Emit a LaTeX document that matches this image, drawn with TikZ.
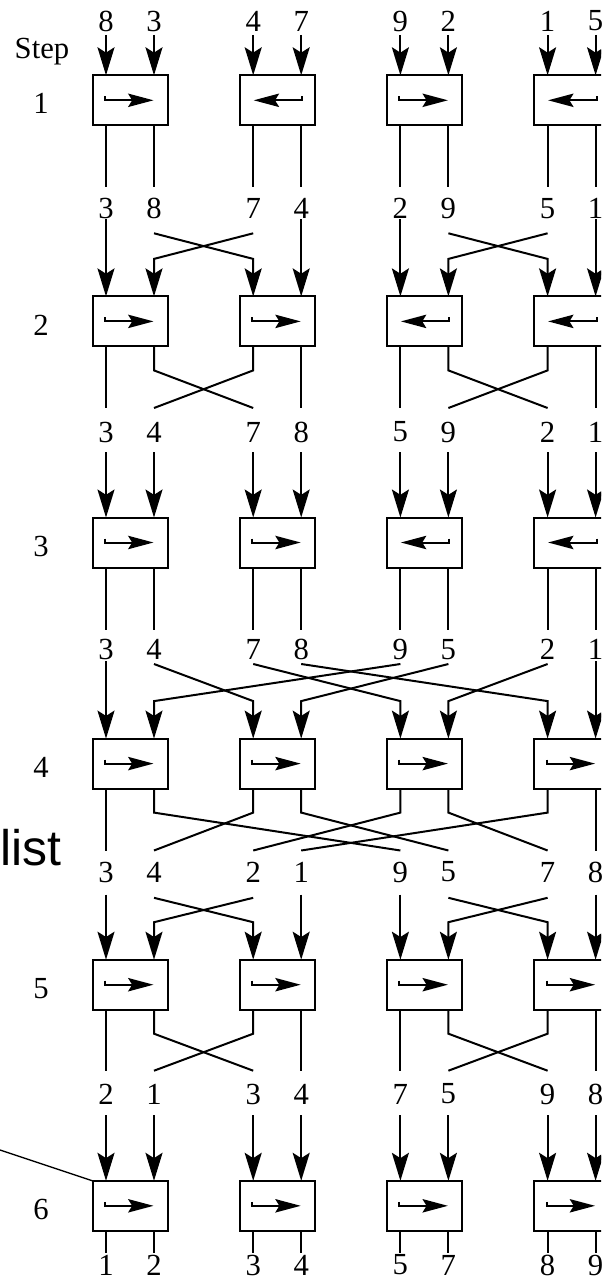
\documentclass[tikz,border=0pt]{standalone}
\usepackage{fontspec}
\setmainfont{Liberation Serif}
\newfontfamily\sansf{Liberation Sans}
\usetikzlibrary{arrows.meta,calc}
\newcommand\mklabrow[3]{%
  \foreach \v [count=\i from 0] in {#3}{%
    \pgfmathsetmacro\wx{106+147.2*floor(\i/2)+48*mod(\i,2)}%
    \node[num] (lab#1\i) at (\wx,#2) {\v};%
  }%
}
\begin{document}
\begin{tikzpicture}[x=0.75pt,y=-0.75pt,
  wire/.style={line width=1.5pt},
  inwire/.style={line width=1.5pt,-{Stealth[length=21pt,width=12.75pt,inset=4pt]}},
  cell/.style={draw,line width=1.5pt,minimum width=56.25pt,minimum height=37.5pt,inner sep=0pt,outer sep=0pt},
  num/.style={font=\fontsize{23}{23}\selectfont,inner sep=0pt},
  dirarrow/.style={line width=1.5pt,-{Stealth[length=19pt,width=10pt,inset=3pt]}},
  leadline/.style={line width=1pt}
]
\useasboundingbox (0,0) rectangle (601,1281);
\clip (0,0) rectangle (601,1281);

% boxes (comparators)
\foreach \s in {1,...,6}{
  \foreach \c in {0,...,3}{
    \pgfmathsetmacro\cx{130+147.2*\c}
    \pgfmathsetmacro\cy{100.3+221.1*(\s-1)}
    \pgfmathtruncatemacro\dirv{{1,-1,1,-1,1,1,-1,-1,1,1,-1,-1,1,1,1,1,1,1,1,1,1,1,1,1}[4*(\s-1)+\c]}
    \pgfmathtruncatemacro\iL{2*\c}
    \pgfmathtruncatemacro\iR{2*\c+1}
    \node[cell] (b\s\c) at (\cx,\cy) {};
    \coordinate (in\s-\iL) at ($(b\s\c.north)+(-24,0)$);
    \coordinate (in\s-\iR) at ($(b\s\c.north)+(24,0)$);
    \coordinate (out\s-\iL) at ($(b\s\c.south)+(-24,0)$);
    \coordinate (out\s-\iR) at ($(b\s\c.south)+(24,0)$);
    \draw[dirarrow] ($(b\s\c.center)+({-25*(\dirv)},-4)$) -- ++(0,4) -- ($(b\s\c.center)+({23.5*(\dirv)},0)$);
  }
}

% value labels
\mklabrow{0}{21}{8,3,4,7,9,2,1,5}
\mklabrow{1}{208.5}{3,8,7,4,2,9,5,1}
\mklabrow{2}{432}{3,4,7,8,5,9,2,1}
\mklabrow{3}{649.5}{3,4,7,8,9,5,2,1}
\mklabrow{4}{872}{3,4,2,1,9,5,7,8}
\mklabrow{5}{1094}{2,1,3,4,7,5,9,8}
\mklabrow{6}{1265}{1,2,3,4,5,7,8,9}

% step labels
\node[num] (steptxt) at (42,52) {Step};
\foreach \s in {1,...,6}{
  \node[num] (stepno\s) at (41,{103.8+221.1*(\s-1)}) {\s};
}

% step 1
\foreach \i in {0,...,7}{
  \draw[inwire] ($(lab0\i)+(0,14)$) -- (in1-\i);
  \draw[wire] (out1-\i) -- ($(lab1\i)+(0,-21.2)$);
}
% step 2
\foreach \i in {0,3,4,7}{
  \draw[inwire] ($(lab1\i)+(0,10.5)$) -- (in2-\i);
  \draw[wire] (out2-\i) -- ($(lab2\i)+(0,-24)$);
}
\foreach \p/\i in {2/1,1/2,6/5,5/6}{
  \draw[inwire] ($(lab1\p)+(0,24.8)$) -- ($(in2-\i)+(0,-37.5)$) -- (in2-\i);
  \draw[wire] (out2-\i) -- ++(0,24) -- ($(lab2\p)+(0,-24)$);
}
% step 3
\foreach \i in {0,...,7}{
  \draw[inwire] ($(lab2\i)+(0,20)$) -- (in3-\i);
  \draw[wire] (out3-\i) -- ($(lab3\i)+(0,-19.5)$);
}
% step 4
\foreach \i in {0,7}{
  \draw[inwire] ($(lab3\i)+(0,11.5)$) -- (in4-\i);
  \draw[wire] (out4-\i) -- ($(lab4\i)+(0,-21.5)$);
}
\foreach \p/\i in {4/1,1/2,5/3,2/4,6/5,3/6}{
  \draw[inwire] ($(lab3\p)+(0,14.5)$) -- ($(in4-\i)+(0,-37.5)$) -- (in4-\i);
}
\foreach \i/\q in {1/4,2/1,3/5,4/2,5/6,6/3}{
  \draw[wire] (out4-\i) -- ++(0,24) -- ($(lab4\q)+(0,-21.5)$);
}
% step 5
\foreach \i in {0,3,4,7}{
  \draw[inwire] ($(lab4\i)+(0,22.5)$) -- (in5-\i);
  \draw[wire] (out5-\i) -- ($(lab5\i)+(0,-23.3)$);
}
\foreach \p/\i in {2/1,1/2,6/5,5/6}{
  \draw[inwire] ($(lab4\p)+(0,25.8)$) -- ($(in5-\i)+(0,-37.5)$) -- (in5-\i);
  \draw[wire] (out5-\i) -- ++(0,24) -- ($(lab5\p)+(0,-23.3)$);
}
% step 6
\foreach \i in {0,...,7}{
  \draw[inwire] ($(lab5\i)+(0,21)$) -- (in6-\i);
  \draw[wire] (out6-\i) -- ($(lab6\i)+(0,-12)$);
}

% side text and leader line
\node[anchor=base west,inner sep=0pt,font=\sansf\fontsize{37.5}{37.5}\selectfont] (listtxt) at (0,865) {list};
\coordinate (leadend) at (0,1150);
\draw[leadline] (leadend) -- (b60.north west);
\end{tikzpicture}
\end{document}
